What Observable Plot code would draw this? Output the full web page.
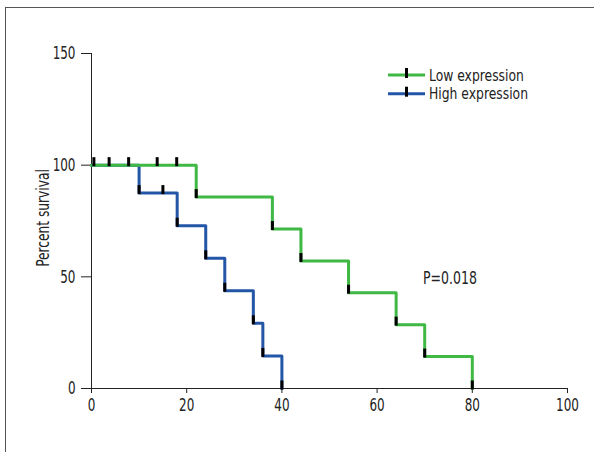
<!DOCTYPE html>
<html>
<head>
<meta charset="utf-8">
<script src="https://cdn.jsdelivr.net/npm/d3@7"></script>
<script src="https://cdn.jsdelivr.net/npm/@observablehq/plot@0.6"></script>
<style>
  html, body { margin: 0; padding: 0; background: #fff; }
  #wrap { position: relative; width: 594px; height: 452px; overflow: hidden; }
  #frame { position: absolute; left: 5px; top: 7px; width: 600px; height: 460px;
           border-left: 1px solid #555; border-top: 1px solid #555; }
  #chart, #overlay { position: absolute; left: 0; top: 0; }
</style>
</head>
<body>
<div id="wrap">
  <div id="frame"></div>
  <div id="chart"></div>
  <svg id="overlay" width="594" height="452"></svg>
</div>
<script>
// ---- data ----
const groupNames = ["Low expression", "High expression"];
const groupColors = ["#3fb844", "#2456a8"];
const lowTimes = [0, 22, 38, 44, 54, 64, 70, 80];
const lowSurvival = [100, 85.7, 71.4, 57.1, 42.9, 28.6, 14.3, 0];
const highTimes = [0, 10, 18, 24, 28, 34, 36, 40];
const highSurvival = [100, 87.5, 72.9, 58.3, 43.75, 29.2, 14.6, 0];
const lowCensorTimes = [0.5, 3.7, 7.8, 13.8, 17.9];
const lowCensorSurvival = [100, 100, 100, 100, 100];
const highCensorTimes = [15];
const highCensorSurvival = [87.5];
const xTicks = [0, 20, 40, 60, 80, 100];
const yTicks = [0, 50, 100, 150];
const yLabel = "Percent survival";
const pValueText = "P=0.018";

// ---- build tables ----
const lowCurve = lowTimes.map((t, i) => ({t, s: lowSurvival[i]}));
const highCurve = highTimes.map((t, i) => ({t, s: highSurvival[i]}));
const markPts = [
  ...lowTimes.slice(1).map((t, i) => ({t, s: lowSurvival[i + 1]})),
  ...highTimes.slice(1).map((t, i) => ({t, s: highSurvival[i + 1]})),
  ...lowCensorTimes.map((t, i) => ({t, s: lowCensorSurvival[i]})),
  ...highCensorTimes.map((t, i) => ({t, s: highCensorSurvival[i]}))
];

const tickSymbol = { draw(ctx) { ctx.moveTo(0, -8); ctx.lineTo(0, 1); } };
const font = '"DejaVu Sans Condensed", "DejaVu Sans", sans-serif';

const chart = Plot.plot({
  width: 594, height: 452,
  marginLeft: 91, marginRight: 27, marginTop: 53, marginBottom: 64,
  x: {domain: [0, 100]},
  y: {domain: [0, 150]},
  style: {background: "transparent", fontFamily: font, fontSize: "18px", color: "#222"},
  marks: [
    Plot.axisX({ticks: xTicks, tickSize: 5, tickPadding: 5, label: null, fontSize: 18, className: "tk"}),
    Plot.axisY({ticks: yTicks, tickSize: 10, tickPadding: 6, label: null, fontSize: 18, className: "tk"}),
    Plot.ruleY([0], {stroke: "#222"}),
    Plot.ruleX([0], {stroke: "#222"}),
    Plot.line(highCurve, {x: "t", y: "s", curve: "step-after", stroke: groupColors[1], strokeWidth: 3}),
    Plot.line(lowCurve, {x: "t", y: "s", curve: "step-after", stroke: groupColors[0], strokeWidth: 3}),
    Plot.dot(markPts, {x: "t", y: "s", symbol: tickSymbol, fill: "none", stroke: "black", strokeWidth: 3}),
    Plot.text([yLabel], {frameAnchor: "left", textAnchor: "middle", rotate: -90, dx: -48, dy: -3, fontSize: 17, fill: "#222", className: "ylab"})
  ]
});
document.getElementById("chart").appendChild(chart);

// condense text horizontally (reference uses a condensed face)
function condense(sel, s) {
  d3.select(chart).selectAll(sel).each(function() {
    const t = this.getAttribute("transform");
    if (t) this.setAttribute("transform", t + ` scale(${s},1)`);
    else {
      const x = +(this.getAttribute("x") || 0), y = +(this.getAttribute("y") || 0);
      this.setAttribute("transform", `translate(${x},${y}) scale(${s},1) translate(${-x},${-y})`);
    }
  });
}
condense(".tk text", 0.74);
condense(".ylab text", 0.8);

// legend + annotation overlay
const ov = d3.select("#overlay").style("font-family", font).attr("fill", "#222");
groupNames.forEach((name, i) => {
  const y = 75 + i * 18.7;
  ov.append("line").attr("x1", 388).attr("x2", 425).attr("y1", y).attr("y2", y)
    .attr("stroke", groupColors[i]).attr("stroke-width", 3);
  ov.append("line").attr("x1", 406.5).attr("x2", 406.5).attr("y1", y - 7).attr("y2", y + 3)
    .attr("stroke", "black").attr("stroke-width", 3);
  ov.append("text").attr("font-size", 16).attr("transform", `translate(429,${y + 5.5}) scale(0.86,1)`).text(name);
});
ov.append("text").attr("font-size", 17).attr("transform", "translate(423,284) scale(0.82,1)").text(pValueText);
</script>
</body>
</html>
